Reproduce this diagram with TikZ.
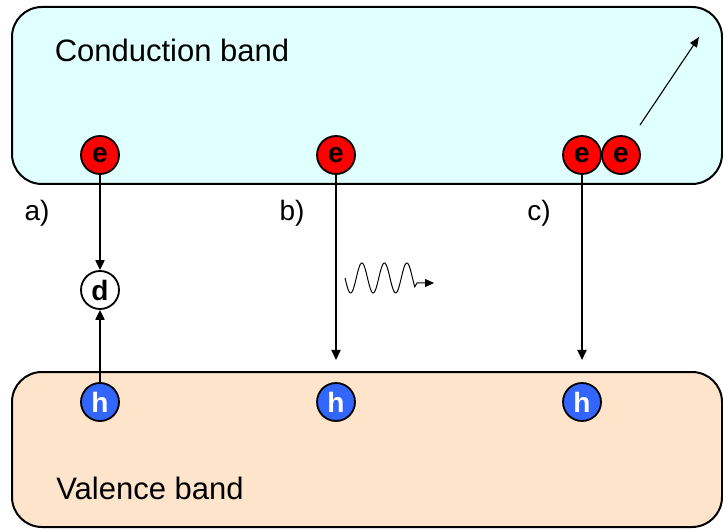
\documentclass[tikz,border=0pt]{standalone}
\usepackage{fontspec}
\setmainfont{Liberation Sans}
\usetikzlibrary{arrows.meta}
\definecolor{cband}{HTML}{E0FFFF}
\definecolor{vband}{HTML}{FFE4CC}
\definecolor{ered}{HTML}{FF0000}
\definecolor{hblue}{HTML}{3366FF}
\begin{document}
\begin{tikzpicture}[x=1pt,y=-1pt,
  band/.style={draw=black,line width=2pt,rounded corners=30pt},
  particle/.style={circle,draw=black,line width=1.8pt,minimum size=38pt,inner sep=0pt,
    font=\fontsize{28}{28}\selectfont\bfseries},
  elec/.style={particle,fill=ered,text=black},
  hole/.style={particle,fill=hblue,text=white},
  defect/.style={particle,fill=white,text=black},
  label/.style={font=\fontsize{31}{31}\selectfont,inner sep=0pt},
  plabel/.style={font=\fontsize{28}{28}\selectfont,inner sep=0pt},
  trans/.style={line width=2pt,-{Triangle[length=10pt,width=9pt]}},
  thin arrow/.style={line width=1.1pt,-{Triangle[length=10pt,width=8pt]}}]
\useasboundingbox (0,0) rectangle (723,529);
% bands
\draw[band,fill=cband] (12,7) rectangle (722,184);
\draw[band,fill=vband] (12,372) rectangle (722,527);
\node[label] (cb) at (172,50) {Conduction band};
\node[label] (vb) at (150,488) {Valence band};
% labels
\node[plabel] (la) at (37,213) {a)};
\node[plabel] (lb) at (292,213) {b)};
\node[plabel] (lc) at (539,213) {c)};
% particles
\node[elec] (ea) at (100,155) {e};
\node[elec] (eb) at (336,155) {e};
\node[elec] (ec1) at (582,155) {e};
\node[elec] (ec2) at (621,155) {e};
\node[defect] (d) at (100,290) {d};
\node[hole] (ha) at (100,402) {h};
\node[hole] (hb) at (336,402) {h};
\node[hole] (hc) at (582,402) {h};
% transitions
\coordinate (bend) at (336,360);
\coordinate (cend) at (582,360);
\draw[trans] (ea.south) -- (d.north);
\draw[trans] (ha.north) -- (d.south);
\draw[trans] (eb.south) -- (bend);
\draw[trans] (ec1.south) -- (cend);
% photon
\coordinate (wend) at (434,283);
\draw[line width=1pt,-{Triangle[length=9pt,width=8pt]}]
  plot[domain=0:3.1,samples=120,smooth] ({345+\x*22.5},{278+15*sin(\x*360)}) -- (417,283) -- (wend);
% ejected electron
\coordinate (as) at (640,125);
\coordinate (ae) at (699,37);
\draw[thin arrow] (as) -- (ae);
\end{tikzpicture}
\end{document}
